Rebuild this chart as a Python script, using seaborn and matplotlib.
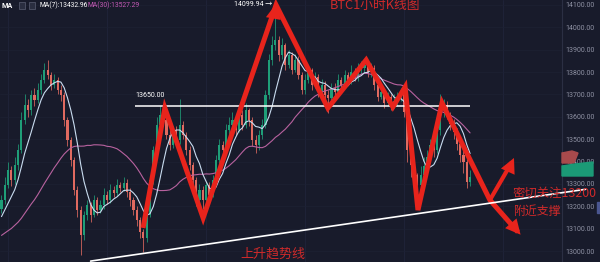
import numpy as np
import pandas as pd
import matplotlib
matplotlib.use("Agg")
import matplotlib.pyplot as plt
import seaborn as sns
from matplotlib.patches import Polygon, Rectangle

# ---------------------------------------------------------------- data
# hourly closes preceding the visible window (feed the moving averages)
warmup_close = [13020, 12990, 13040, 13010, 12980, 13030, 13060, 13020, 13000, 13050,
                13090, 13040, 13010, 13060, 13080, 13030, 13070, 13100, 13050, 13020,
                13060, 13030, 13080, 13120, 13090, 13150, 13110, 13170, 13140, 13190]

close = [13228, 13295, 13362, 13317, 13384, 13452, 13586, 13653, 13630, 13698,
         13675, 13720, 13765, 13809, 13787, 13742, 13765, 13720, 13698, 13586,
         13496, 13407, 13273, 13183, 13071, 13161, 13206, 13161, 13228, 13183,
         13206, 13250, 13228, 13273, 13259, 13295, 13282, 13304, 13264, 13228,
         13183, 13138, 13085, 13058, 13161, 13317, 13452, 13563, 13608, 13586,
         13519, 13474, 13541, 13496, 13563, 13519, 13452, 13384, 13317, 13228,
         13273, 13228, 13295, 13250, 13317, 13407, 13474, 13452, 13541, 13563,
         13586, 13541, 13608, 13563, 13630, 13586, 13496, 13474, 13519, 13563,
         13698, 13854, 13921, 13943, 13876, 13921, 13832, 13876, 13809, 13854,
         13787, 13720, 13765, 13809, 13742, 13776, 13711, 13742, 13698, 13684,
         13729, 13711, 13765, 13742, 13787, 13756, 13800, 13776, 13809, 13818,
         13832, 13800, 13818, 13740, 13690, 13710, 13660, 13690, 13650, 13670,
         13690, 13700, 13620, 13452, 13384, 13340, 13295, 13340, 13380, 13420,
         13474, 13452, 13541, 13630, 13653, 13608, 13570, 13530, 13480, 13430,
         13400, 13310, 13330.72]

high = [13250, 13330, 13400, 13380, 13420, 13480, 13620, 13700, 13680, 13720,
        13730, 13750, 13790, 13840, 13854, 13800, 13790, 13780, 13740, 13710,
        13600, 13510, 13420, 13290, 13200, 13180, 13230, 13220, 13250, 13240,
        13230, 13280, 13270, 13300, 13290, 13320, 13310, 13330, 13320, 13280,
        13240, 13200, 13150, 13100, 13180, 13330, 13470, 13600, 13650, 13630,
        13600, 13540, 13560, 13560, 13680, 13580, 13530, 13470, 13400, 13330,
        13300, 13290, 13310, 13310, 13340, 13430, 13500, 13490, 13570, 13600,
        13620, 13600, 13640, 13630, 13660, 13640, 13600, 13520, 13540, 13590,
        13720, 13880, 13960, 14099.94, 13960, 13950, 13930, 13900, 13890, 13880,
        13870, 13800, 13790, 13830, 13820, 13800, 13790, 13770, 13760, 13720,
        13750, 13750, 13790, 13780, 13810, 13800, 13830, 13820, 13840, 13850,
        13860, 13850, 13840, 13830, 13760, 13740, 13720, 13710, 13700, 13700,
        13710, 13730, 13710, 13630, 13470, 13400, 13350, 13380, 13420, 13450,
        13500, 13490, 13560, 13700, 13680, 13670, 13620, 13590, 13550, 13500,
        13450, 13410, 13360]

low = [13170, 13210, 13280, 13290, 13300, 13360, 13440, 13570, 13600, 13610,
       13650, 13660, 13700, 13750, 13770, 13720, 13730, 13700, 13670, 13560,
       13470, 13380, 13250, 13150, 12982, 13050, 13140, 13130, 13150, 13160,
       13170, 13190, 13210, 13215, 13240, 13245, 13265, 13270, 13240, 13200,
       13160, 13110, 13060, 12995, 13040, 13150, 13300, 13440, 13540, 13560,
       13500, 13450, 13460, 13480, 13480, 13500, 13430, 13360, 13290, 13200,
       13210, 13190, 13215, 13230, 13240, 13300, 13390, 13420, 13440, 13520,
       13540, 13520, 13530, 13540, 13550, 13560, 13470, 13440, 13450, 13500,
       13550, 13680, 13830, 13900, 13850, 13860, 13810, 13820, 13790, 13800,
       13770, 13700, 13700, 13750, 13720, 13730, 13690, 13700, 13680, 13617,
       13670, 13690, 13700, 13720, 13730, 13740, 13745, 13760, 13760, 13790,
       13800, 13780, 13780, 13720, 13670, 13680, 13640, 13650, 13630, 13640,
       13650, 13670, 13600, 13400, 13330, 13300, 13250, 13270, 13320, 13360,
       13400, 13420, 13440, 13520, 13600, 13590, 13540, 13500, 13450, 13400,
       13350, 13280, 13290]

price_ticks = [13000, 13100, 13200, 13300, 13400, 13500, 13600, 13700, 13800, 13900, 14000, 14100]
resistance = 13650.00
peak_price = 14099.94
ma7_label = "MA(7):13432.96"
ma30_label = "MA(30):13527.29"

# zig-zag swing path drawn over the candles (candle index, price)
swing_idx = [42.9, 49.5, 61.1, 83.2, 98.9, 110.5, 118.6, 122.3, 126.2, 133.5, 148.0, 156.5]
swing_px = [13103, 13639, 13148, 14100, 13639, 13854, 13644, 13733, 13183, 13662, 13228, 13085]
bounce_idx = [148.0, 154.7]
bounce_px = [13228, 13398]

# rising support line (two anchor points)
trend_idx = [27.0, 177.0]
trend_px = [12955, 13276]

# ---------------------------------------------------------------- style
BG = "#181b2b"
UP = "#1f9e78"
DOWN = "#e06a60"
ARROW = "#e8241c"
MA7_C = "#c9dcf0"
MA30_C = "#b8629f"
TXT_RED = "#cf2a2a"

sns.set_theme(style="dark", rc={"axes.facecolor": BG, "figure.facecolor": BG})
plt.rcParams["font.family"] = ["Roboto", "Noto Sans CJK SC", "DejaVu Sans"]
CJK = ["Noto Sans CJK SC", "DejaVu Sans"]

fig = plt.figure(figsize=(6, 2.62), dpi=100, facecolor=BG)
ax = fig.add_axes([0, 0, 562 / 600, 1])
ax.set_facecolor(BG)

n = len(close)
idx = np.arange(n)
c = np.array(close, dtype=float)
o = np.array([warmup_close[-1]] + close[:-1], dtype=float)
h = np.array(high, dtype=float)
l = np.array(low, dtype=float)
rising = c >= o
colors = np.where(rising, UP, DOWN)

# faint grid
for gx in [2, 32, 62, 92, 122, 152]:
    ax.axvline(gx, color="#20243a", lw=0.6, zorder=0)
for gy in price_ticks:
    ax.axhline(gy, color="#1d2133", lw=0.5, zorder=0)

# candles
ax.vlines(idx, l, h, colors=colors, lw=0.55, zorder=2)
body_h = np.maximum(np.abs(c - o), 2.0)
ax.bar(idx, body_h, bottom=np.minimum(o, c), width=0.62, color=colors,
       linewidth=0, zorder=3)

# moving averages
full = pd.Series(warmup_close + close, dtype=float)
ma7 = full.rolling(7).mean().to_numpy()[len(warmup_close):]
ma30 = full.rolling(30).mean().to_numpy()[len(warmup_close):]
ma_df = pd.DataFrame({"i": idx, "ma7": ma7, "ma30": ma30})
sns.lineplot(data=ma_df, x="i", y="ma30", ax=ax, color=MA30_C, lw=0.8, zorder=4)
sns.lineplot(data=ma_df, x="i", y="ma7", ax=ax, color=MA7_C, lw=0.8, zorder=5)

# resistance line
ax.hlines(resistance, 40.5, 142, colors="white", lw=1.1, zorder=6)
ax.annotate(f"{resistance:.2f}", (40.6, resistance), xytext=(0, 5),
            textcoords="offset points", color="white", fontsize=5, va="bottom", ha="left")

# swing arrows
ax.plot(swing_idx, swing_px, color=ARROW, lw=3.6, solid_joinstyle="miter",
        solid_capstyle="butt", zorder=7)
ax.plot(bounce_idx, bounce_px, color=ARROW, lw=3.0, solid_capstyle="butt", zorder=7)
head = dict(arrowstyle="-|>,head_length=0.9,head_width=0.45", color=ARROW, lw=0,
            shrinkA=0, shrinkB=0)
ax.annotate("", xy=(bounce_idx[1] + 0.6, bounce_px[1] + 18),
            xytext=(bounce_idx[1] - 1.5, bounce_px[1] - 50), arrowprops=head, zorder=8)
ax.annotate("", xy=(swing_idx[-1] + 0.8, swing_px[-1] - 12),
            xytext=(swing_idx[-1] - 2.5, swing_px[-1] + 45), arrowprops=head, zorder=8)
ax.annotate("", xy=(swing_idx[3], swing_px[3] + 5),
            xytext=(swing_idx[3] - 1.2, swing_px[3] - 90), arrowprops=head, zorder=8)

# support trend line
ax.plot(trend_idx, trend_px, color="white", lw=1.2, zorder=9, clip_on=False)

# peak marker text
ax.annotate(f"{peak_price:.2f} \u2192", (83, peak_price), xytext=(-2, 0),
            textcoords="offset points", color="white", fontsize=5, ha="right", va="center")

# axes
ax.set_xlim(-0.4545, 169.85)
ax.set_ylim(12951, 14122)
ax.set_xlabel("")
ax.set_ylabel("")
ax.set_xticks([])
ax.yaxis.tick_right()
ax.set_yticks(price_ticks)
ax.set_yticklabels([f"{t:.2f}" for t in price_ticks])
ax.tick_params(axis="y", length=0, pad=2.2, labelsize=5, labelcolor="#8e91a3")
for side in ["top", "left", "bottom"]:
    ax.spines[side].set_visible(False)
ax.spines["right"].set_color("#2b2f43")
ax.spines["right"].set_linewidth(0.8)


def fx(x):
    return x / 600


def fy(y):
    return 1 - y / 262


# last price tags on the price scale
fig.add_artist(Polygon([(fx(562), fy(163)), (fx(562), fy(153)), (fx(572), fy(151)),
                        (fx(578), fy(153)), (fx(574), fy(163))],
                       closed=True, transform=fig.transFigure, color="#a84a4c", zorder=1))
fig.add_artist(Polygon([(fx(562), fy(176)), (fx(562), fy(166)), (fx(575), fy(164)),
                        (fx(593), fy(162)), (fx(593), fy(176))],
                       closed=True, transform=fig.transFigure, color="#1b9a76", zorder=1))
fig.add_artist(Rectangle((fx(597), fy(213)), 3 / 600, 11 / 262,
                         transform=fig.transFigure, color="#4a5690", zorder=1))

# header legend
fig.text(fx(2), fy(5.5), "MA", color="white", fontsize=5.2, fontweight="bold", va="center")
for bx in [18.5, 28.5]:
    fig.add_artist(Rectangle((fx(bx), fy(9)), 6.5 / 600, 6.5 / 262, transform=fig.transFigure,
                             facecolor="#2a2e40", edgecolor="#5a5e72", lw=0.5))
fig.text(fx(39), fy(5.5), ma7_label, color="white", fontsize=4.9, va="center")
fig.text(fx(88), fy(5.5), ma30_label, color="#c45ab6", fontsize=4.9, va="center")

# titles and notes
fig.text(fx(330), fy(5), "BTC1小时K线图", color=TXT_RED, fontsize=9.2,
         family=CJK, va="center", ha="left")
fig.text(fx(240), fy(261), "上升趋势线", color=TXT_RED, fontsize=9.4,
         family=CJK, va="bottom", ha="left")
fig.text(fx(513), fy(193.5), "密切关注13200", color=TXT_RED, fontsize=8.9,
         family=CJK, va="center", ha="left", zorder=5)
fig.text(fx(513), fy(211), "附近支撑", color=TXT_RED, fontsize=8.6,
         family=CJK, va="center", ha="left", zorder=5)

fig.savefig("out.png", dpi=100, facecolor=BG)
